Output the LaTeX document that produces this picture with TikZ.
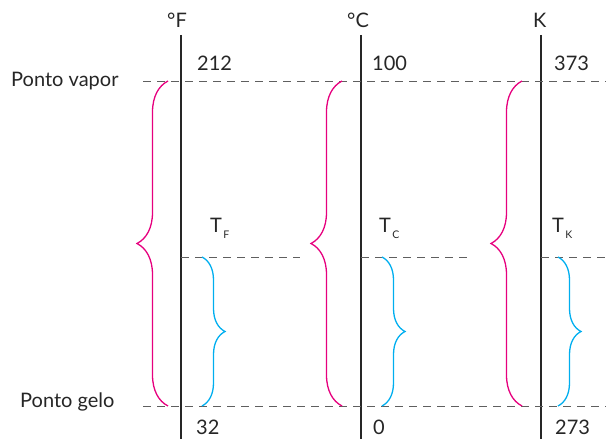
\documentclass[tikz,border=0pt]{standalone}
\usepackage{fontspec}
\setmainfont{Lato}
\usepackage{tikz}
\usetikzlibrary{decorations.pathreplacing, positioning}
\definecolor{bracepink}{RGB}{230,0,126}
\definecolor{braceblue}{RGB}{0,174,239}
\definecolor{dashgray}{RGB}{95,95,95}

\begin{document}
\begin{tikzpicture}[
    x=1pt, y=1pt,
    every node/.style={font=\fontsize{20}{24}\selectfont, text=black!85, inner sep=0pt, anchor=base west},
    scaleline/.style={line width=2.6pt, black!85},
    level/.style={dashgray, line width=0.9pt, dash pattern=on 8pt off 6pt},
    bigbrace/.style={bracepink, line width=1.3pt, decorate, decoration={brace, amplitude=31pt, aspect=0.5}},
    smallbrace/.style={braceblue, line width=1.3pt, decorate, decoration={brace, amplitude=23pt, aspect=0.5}},
    sub/.style={font=\fontsize{10.5}{12}\selectfont}
]
\useasboundingbox (0,0) rectangle (606,439);

% scale lines
\coordinate (fTop) at (181,404); \coordinate (fBot) at (181,0);
\coordinate (cTop) at (361,404); \coordinate (cBot) at (361,0);
\coordinate (kTop) at (541,404); \coordinate (kBot) at (541,0);
\draw[scaleline] (fTop) -- (fBot);
\draw[scaleline] (cTop) -- (cBot);
\draw[scaleline] (kTop) -- (kBot);

\node (fUnit) at (167,411) {°F};
\node (cUnit) at (347,411) {°C};
\node (kUnit) at (533,411) {K};

% fixed points
\node (vapor) at (11,352) {Ponto vapor};
\node (gelo) at (20,31) {Ponto gelo};
\coordinate (vaporEnd) at (606,358);
\coordinate (geloEnd) at (606,33);
\draw[level] (143,358) -- (vaporEnd);
\draw[level] (143,33) -- (geloEnd);

\node (fHigh) at (197,368) {212};
\node (cHigh) at (372,368) {100};
\node (kHigh) at (554,368) {373};
\node (fLow) at (196,4) {32};
\node (cLow) at (373,4) {0};
\node (kLow) at (555,4) {273};

% reading T
\coordinate (fMid) at (181,182); \coordinate (fMidEnd) at (300,182);
\coordinate (cMid) at (361,182); \coordinate (cMidEnd) at (470,182);
\coordinate (kMid) at (541,182); \coordinate (kMidEnd) at (606,182);
\draw[level] (fMid) -- (fMidEnd);
\draw[level] (cMid) -- (cMidEnd);
\draw[level] (kMid) -- (kMidEnd);

\node (fT) at (210,206) {T};
\node[sub, right=1pt of fT.base east, anchor=base west, yshift=-6pt] (fSub) {F};
\node (cT) at (379,206) {T};
\node[sub, right=1pt of cT.base east, anchor=base west, yshift=-6pt] (cSub) {C};
\node (kT) at (552,206) {T};
\node[sub, right=1pt of kT.base east, anchor=base west, yshift=-6pt] (kSub) {K};

% braces
\draw[bigbrace] (168,33) -- (168,358);
\draw[bigbrace] (342,33) -- (342,358);
\draw[bigbrace] (522,33) -- (522,358);
\draw[smallbrace] (202,182) -- (202,33);
\draw[smallbrace] (382,182) -- (382,33);
\draw[smallbrace] (558,182) -- (558,33);

\end{tikzpicture}
\end{document}
